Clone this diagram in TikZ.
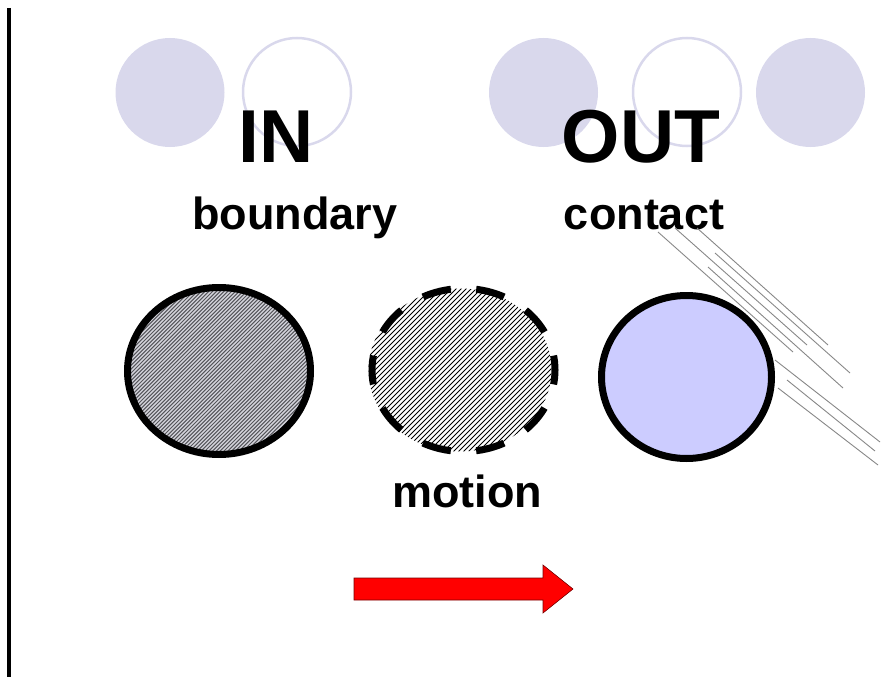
\documentclass[tikz,border=0pt]{standalone}
\usepackage{fontspec}
\setmainfont{Liberation Sans}
\usetikzlibrary{shapes.geometric}
\definecolor{lav}{RGB}{217,216,236}
\definecolor{periw}{RGB}{204,204,255}
\definecolor{hatchbg}{RGB}{212,212,220}
\definecolor{hatchfg}{RGB}{85,85,90}
\definecolor{streak}{RGB}{135,135,135}
\begin{document}
\begin{tikzpicture}[x=1pt,y=-1pt,
  decofill/.style={circle,fill=lav,draw=none,minimum size=109pt,inner sep=0pt},
  decoring/.style={circle,draw=lav,line width=2.5pt,minimum size=108pt,inner sep=0pt},
  bigword/.style={font=\fontsize{75}{80}\selectfont\bfseries,anchor=base,inner sep=0pt},
  smallword/.style={font=\fontsize{45}{50}\selectfont\bfseries,anchor=base,inner sep=0pt},
  ball/.style={ellipse,inner sep=0pt,line width=7pt},
  streakline/.style={draw=streak,line width=0.9pt}
]
\useasboundingbox (0,0) rectangle (881,677);
% left rule
\draw[line width=4pt] (9,8) -- (9,677);
% decorative circles
\node[decofill] (d1) at (170,92.5) {};
\node[decoring] (d2) at (297,92) {};
\node[decofill] (d3) at (543.5,92.5) {};
\node[decoring] (d4) at (687,92) {};
\node[decofill] (d5) at (810.5,92.5) {};
% titles
\node[bigword] (tin) at (276,162) {IN};
\node[bigword] (tout) at (641,162) {OUT};
\node[smallword] (tbound) at (295,229) {boundary};
\node[smallword] (tcont) at (644,229) {contact};
\node[smallword] (tmot) at (467,507) {motion};
% motion streaks
\draw[streakline] (658,232) -- (793,352);
\draw[streakline] (675,228) -- (807,345);
\draw[streakline] (697,228) -- (828,345);
\draw[streakline] (715,253) -- (850,373);
\draw[streakline] (708,267) -- (843,388);
\draw[streakline] (775,360) -- (880,442);
\draw[streakline] (787,380) -- (875,451);
\draw[streakline] (778,388) -- (878,465);
% balls
\node[ball,draw=black,fill=hatchbg,minimum width=183pt,minimum height=167pt,
  path picture={
    \foreach \s in {-200,-196.2,...,200}
      \draw[hatchfg,line width=1.0pt,shift={(path picture bounding box.center)}]
        (\s-110,110) -- ++(220,-220);
  }] (b1) at (219,371) {};
\node[ball,draw=none,fill=white,minimum width=183pt,minimum height=163pt,
  path picture={
    \foreach \s in {-200,-195,...,200}
      \draw[black,line width=1.0pt,shift={(path picture bounding box.center)}]
        (\s-110,110) -- ++(220,-220);
  }] (b2) at (460,370) {};
\draw[line width=7pt,dash pattern=on 29pt off 25.4pt,dash phase=14.5pt]
  (b2.east) arc[start angle=0,end angle=-360,x radius=91.5pt,y radius=81.5pt];
\node[ball,draw=black,fill=periw,minimum width=170pt,minimum height=163pt] (b3) at (686.5,377) {};
% arrow
\draw[draw={rgb,255:red,120;green,0;blue,0},line width=0.6pt,fill=red]
  (354,578) -- (543,578) -- (543,565) -- (573,589) -- (543,613) -- (543,600) -- (354,600) -- cycle;
\end{tikzpicture}
\end{document}
